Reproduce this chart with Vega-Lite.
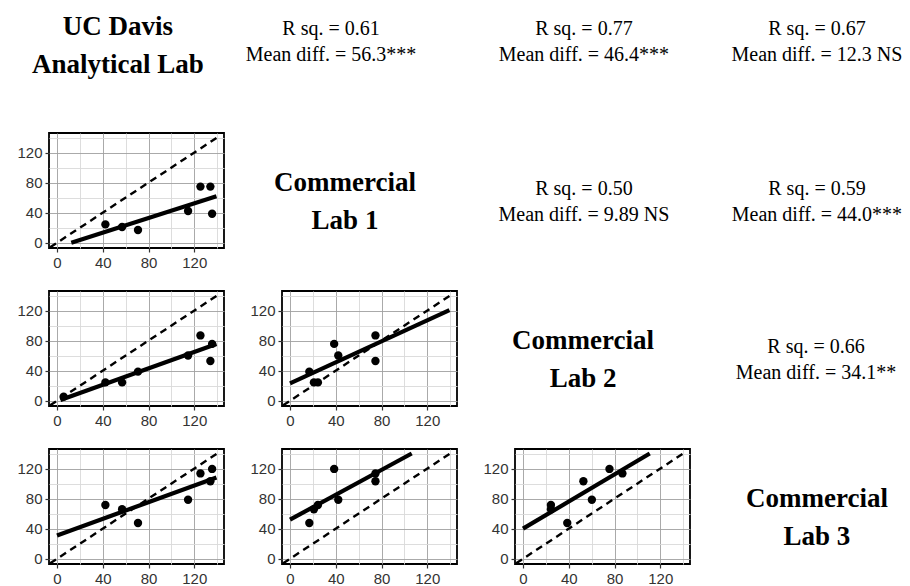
{
  "$schema": "https://vega.github.io/schema/vega-lite/v6.json",
  "background": "white",
  "padding": {"left": 16, "top": 0, "right": 0, "bottom": 0},
  "datasets": {
    "samples": [
      {"ucd": 42.3, "lab1": 24.4, "lab2": 24.4, "lab3": 71.5},
      {"ucd": 56.9, "lab1": 20.9, "lab2": 24.4, "lab3": 65.8},
      {"ucd": 70.8, "lab1": 16.9, "lab2": 38.7, "lab3": 47.5},
      {"ucd": 114.6, "lab1": 42.2, "lab2": 60.2, "lab3": 78.5},
      {"ucd": 125.4, "lab1": 74.7, "lab2": 86.9, "lab3": 113.5},
      {"ucd": 134.1, "lab1": 74.7, "lab2": 52.8, "lab3": 103.1},
      {"ucd": 135.6, "lab1": 38.6, "lab2": 75.6, "lab3": 119.5},
      {"ucd": 5.8, "lab1": null, "lab2": 5.5, "lab3": null}
    ],
    "fits": [
      {"panel": "lab1_ucd", "x": 12.5, "y": 0},
      {"panel": "lab1_ucd", "x": 139.4, "y": 62},
      {"panel": "lab2_ucd", "x": 3, "y": 1},
      {"panel": "lab2_ucd", "x": 139.4, "y": 75.5},
      {"panel": "lab3_ucd", "x": 0, "y": 31},
      {"panel": "lab3_ucd", "x": 139.4, "y": 108},
      {"panel": "lab2_lab1", "x": 0, "y": 23},
      {"panel": "lab2_lab1", "x": 139.4, "y": 120.5},
      {"panel": "lab3_lab1", "x": 0, "y": 52},
      {"panel": "lab3_lab1", "x": 106.4, "y": 140},
      {"panel": "lab3_lab2", "x": 0, "y": 40},
      {"panel": "lab3_lab2", "x": 110.8, "y": 140}
    ],
    "unity": [{"v": -6}, {"v": 140}],
    "texts": [
      {"cell": "r1c1", "line": 1, "text": "UC Davis"},
      {"cell": "r1c1", "line": 2, "text": "Analytical Lab"},
      {"cell": "r1c2", "line": 1, "text": "R sq. = 0.61"},
      {"cell": "r1c2", "line": 2, "text": "Mean diff. = 56.3***"},
      {"cell": "r1c3", "line": 1, "text": "R sq. = 0.77"},
      {"cell": "r1c3", "line": 2, "text": "Mean diff. = 46.4***"},
      {"cell": "r1c4", "line": 1, "text": "R sq. = 0.67"},
      {"cell": "r1c4", "line": 2, "text": "Mean diff. = 12.3 NS"},
      {"cell": "r2c2", "line": 1, "text": "Commercial"},
      {"cell": "r2c2", "line": 2, "text": "Lab 1"},
      {"cell": "r2c3", "line": 1, "text": "R sq. = 0.50"},
      {"cell": "r2c3", "line": 2, "text": "Mean diff. = 9.89 NS"},
      {"cell": "r2c4", "line": 1, "text": "R sq. = 0.59"},
      {"cell": "r2c4", "line": 2, "text": "Mean diff. = 44.0***"},
      {"cell": "r3c3", "line": 1, "text": "Commercial"},
      {"cell": "r3c3", "line": 2, "text": "Lab 2"},
      {"cell": "r3c4", "line": 1, "text": "R sq. = 0.66"},
      {"cell": "r3c4", "line": 2, "text": "Mean diff. = 34.1**"},
      {"cell": "r4c4", "line": 1, "text": "Commercial"},
      {"cell": "r4c4", "line": 2, "text": "Lab 3"}
    ]
  },
  "columns": 4,
  "spacing": {"row": 43, "column": 58},
  "bounds": "flush",
  "concat": [
    {"width": 175, "height": 90, "view": {"stroke": null}, "data": {"name": "texts"}, "transform": [{"filter": "datum.cell === 'r1c1'"}],
     "mark": {"type": "text", "font": "Liberation Serif", "fontSize": 27, "fontWeight": "bold", "align": "center", "baseline": "middle", "color": "black"},
     "encoding": {"x": {"datum": 0.394, "type": "quantitative", "scale": {"domain": [0, 1]}, "axis": null},
                  "y": {"field": "line", "type": "quantitative", "scale": {"domain": [0.2895, 2.658], "reverse": true, "nice": false, "zero": false}, "axis": null},
                  "text": {"field": "text"}}},
    {"width": 175, "height": 90, "view": {"stroke": null}, "data": {"name": "texts"}, "transform": [{"filter": "datum.cell === 'r1c2'"}],
     "mark": {"type": "text", "font": "Liberation Serif", "fontSize": 20, "align": "center", "baseline": "middle", "color": "black"},
     "encoding": {"x": {"datum": 0.28, "type": "quantitative", "scale": {"domain": [0, 1]}, "axis": null},
                  "y": {"field": "line", "type": "quantitative", "scale": {"domain": [-0.115, 3.346], "reverse": true, "nice": false, "zero": false}, "axis": null},
                  "text": {"field": "text"}}},
    {"width": 175, "height": 90, "view": {"stroke": null}, "data": {"name": "texts"}, "transform": [{"filter": "datum.cell === 'r1c3'"}],
     "mark": {"type": "text", "font": "Liberation Serif", "fontSize": 20, "align": "center", "baseline": "middle", "color": "black"},
     "encoding": {"x": {"datum": 0.394, "type": "quantitative", "scale": {"domain": [0, 1]}, "axis": null},
                  "y": {"field": "line", "type": "quantitative", "scale": {"domain": [-0.115, 3.346], "reverse": true, "nice": false, "zero": false}, "axis": null},
                  "text": {"field": "text"}}},
    {"width": 160, "height": 90, "view": {"stroke": null}, "data": {"name": "texts"}, "transform": [{"filter": "datum.cell === 'r1c4'"}],
     "mark": {"type": "text", "font": "Liberation Serif", "fontSize": 20, "align": "center", "baseline": "middle", "color": "black"},
     "encoding": {"x": {"datum": 0.431, "type": "quantitative", "scale": {"domain": [0, 1]}, "axis": null},
                  "y": {"field": "line", "type": "quantitative", "scale": {"domain": [-0.115, 3.346], "reverse": true, "nice": false, "zero": false}, "axis": null},
                  "text": {"field": "text"}}},

    {"width": 175, "height": 115, "resolve": {"axis": {"x": "independent", "y": "independent"}}, "layer": [
      {"data": {"name": "unity"}, "mark": {"type": "line", "color": "black", "strokeWidth": 2.4, "strokeDash": [7, 5], "clip": true},
       "encoding": {"x": {"field": "v", "type": "quantitative", "scale": {"domain": [-7, 146], "nice": false, "zero": false},
                          "axis": {"orient": "top", "title": null, "values": [20, 60, 100, 140], "grid": true, "gridColor": "#d9d9d9", "labels": false, "ticks": false, "domain": false}},
                    "y": {"field": "v", "type": "quantitative", "scale": {"domain": [-7, 146], "nice": false, "zero": false},
                          "axis": {"orient": "right", "title": null, "values": [20, 60, 100, 140], "grid": true, "gridColor": "#d9d9d9", "labels": false, "ticks": false, "domain": false}}}},
      {"data": {"name": "fits"}, "transform": [{"filter": "datum.panel === 'lab1_ucd'"}], "mark": {"type": "line", "color": "black", "strokeWidth": 4.2, "clip": true},
       "encoding": {"x": {"field": "x", "type": "quantitative", "axis": {"orient": "bottom", "title": null, "values": [0, 40, 80, 120], "grid": true, "gridColor": "#a0a0a0"}},
                    "y": {"field": "y", "type": "quantitative", "axis": {"orient": "left", "title": null, "values": [0, 40, 80, 120], "grid": true, "gridColor": "#a0a0a0"}}}},
      {"data": {"name": "samples"}, "mark": {"type": "circle", "color": "black", "opacity": 1, "size": 70},
       "encoding": {"x": {"field": "ucd", "type": "quantitative", "axis": null}, "y": {"field": "lab1", "type": "quantitative", "axis": null}}}
    ]},
    {"width": 175, "height": 115, "view": {"stroke": null}, "data": {"name": "texts"}, "transform": [{"filter": "datum.cell === 'r2c2'"}],
     "mark": {"type": "text", "font": "Liberation Serif", "fontSize": 27, "fontWeight": "bold", "align": "center", "baseline": "middle", "color": "black"},
     "encoding": {"x": {"datum": 0.36, "type": "quantitative", "scale": {"domain": [0, 1]}, "axis": null},
                  "y": {"field": "line", "type": "quantitative", "scale": {"domain": [-0.316, 2.711], "reverse": true, "nice": false, "zero": false}, "axis": null},
                  "text": {"field": "text"}}},
    {"width": 175, "height": 115, "view": {"stroke": null}, "data": {"name": "texts"}, "transform": [{"filter": "datum.cell === 'r2c3'"}],
     "mark": {"type": "text", "font": "Liberation Serif", "fontSize": 20, "align": "center", "baseline": "middle", "color": "black"},
     "encoding": {"x": {"datum": 0.394, "type": "quantitative", "scale": {"domain": [0, 1]}, "axis": null},
                  "y": {"field": "line", "type": "quantitative", "scale": {"domain": [-1.154, 3.269], "reverse": true, "nice": false, "zero": false}, "axis": null},
                  "text": {"field": "text"}}},
    {"width": 160, "height": 115, "view": {"stroke": null}, "data": {"name": "texts"}, "transform": [{"filter": "datum.cell === 'r2c4'"}],
     "mark": {"type": "text", "font": "Liberation Serif", "fontSize": 20, "align": "center", "baseline": "middle", "color": "black"},
     "encoding": {"x": {"datum": 0.431, "type": "quantitative", "scale": {"domain": [0, 1]}, "axis": null},
                  "y": {"field": "line", "type": "quantitative", "scale": {"domain": [-1.154, 3.269], "reverse": true, "nice": false, "zero": false}, "axis": null},
                  "text": {"field": "text"}}},

    {"width": 175, "height": 115, "resolve": {"axis": {"x": "independent", "y": "independent"}}, "layer": [
      {"data": {"name": "unity"}, "mark": {"type": "line", "color": "black", "strokeWidth": 2.4, "strokeDash": [7, 5], "clip": true},
       "encoding": {"x": {"field": "v", "type": "quantitative", "scale": {"domain": [-7, 146], "nice": false, "zero": false},
                          "axis": {"orient": "top", "title": null, "values": [20, 60, 100, 140], "grid": true, "gridColor": "#d9d9d9", "labels": false, "ticks": false, "domain": false}},
                    "y": {"field": "v", "type": "quantitative", "scale": {"domain": [-7, 146], "nice": false, "zero": false},
                          "axis": {"orient": "right", "title": null, "values": [20, 60, 100, 140], "grid": true, "gridColor": "#d9d9d9", "labels": false, "ticks": false, "domain": false}}}},
      {"data": {"name": "fits"}, "transform": [{"filter": "datum.panel === 'lab2_ucd'"}], "mark": {"type": "line", "color": "black", "strokeWidth": 4.2, "clip": true},
       "encoding": {"x": {"field": "x", "type": "quantitative", "axis": {"orient": "bottom", "title": null, "values": [0, 40, 80, 120], "grid": true, "gridColor": "#a0a0a0"}},
                    "y": {"field": "y", "type": "quantitative", "axis": {"orient": "left", "title": null, "values": [0, 40, 80, 120], "grid": true, "gridColor": "#a0a0a0"}}}},
      {"data": {"name": "samples"}, "mark": {"type": "circle", "color": "black", "opacity": 1, "size": 70},
       "encoding": {"x": {"field": "ucd", "type": "quantitative", "axis": null}, "y": {"field": "lab2", "type": "quantitative", "axis": null}}}
    ]},
    {"width": 175, "height": 115, "resolve": {"axis": {"x": "independent", "y": "independent"}}, "layer": [
      {"data": {"name": "unity"}, "mark": {"type": "line", "color": "black", "strokeWidth": 2.4, "strokeDash": [7, 5], "clip": true},
       "encoding": {"x": {"field": "v", "type": "quantitative", "scale": {"domain": [-7, 146], "nice": false, "zero": false},
                          "axis": {"orient": "top", "title": null, "values": [20, 60, 100, 140], "grid": true, "gridColor": "#d9d9d9", "labels": false, "ticks": false, "domain": false}},
                    "y": {"field": "v", "type": "quantitative", "scale": {"domain": [-7, 146], "nice": false, "zero": false},
                          "axis": {"orient": "right", "title": null, "values": [20, 60, 100, 140], "grid": true, "gridColor": "#d9d9d9", "labels": false, "ticks": false, "domain": false}}}},
      {"data": {"name": "fits"}, "transform": [{"filter": "datum.panel === 'lab2_lab1'"}], "mark": {"type": "line", "color": "black", "strokeWidth": 4.2, "clip": true},
       "encoding": {"x": {"field": "x", "type": "quantitative", "axis": {"orient": "bottom", "title": null, "values": [0, 40, 80, 120], "grid": true, "gridColor": "#a0a0a0"}},
                    "y": {"field": "y", "type": "quantitative", "axis": {"orient": "left", "title": null, "values": [0, 40, 80, 120], "grid": true, "gridColor": "#a0a0a0"}}}},
      {"data": {"name": "samples"}, "mark": {"type": "circle", "color": "black", "opacity": 1, "size": 70},
       "encoding": {"x": {"field": "lab1", "type": "quantitative", "axis": null}, "y": {"field": "lab2", "type": "quantitative", "axis": null}}}
    ]},
    {"width": 175, "height": 115, "view": {"stroke": null}, "data": {"name": "texts"}, "transform": [{"filter": "datum.cell === 'r3c3'"}],
     "mark": {"type": "text", "font": "Liberation Serif", "fontSize": 27, "fontWeight": "bold", "align": "center", "baseline": "middle", "color": "black"},
     "encoding": {"x": {"datum": 0.389, "type": "quantitative", "scale": {"domain": [0, 1]}, "axis": null},
                  "y": {"field": "line", "type": "quantitative", "scale": {"domain": [-0.316, 2.711], "reverse": true, "nice": false, "zero": false}, "axis": null},
                  "text": {"field": "text"}}},
    {"width": 160, "height": 115, "view": {"stroke": null}, "data": {"name": "texts"}, "transform": [{"filter": "datum.cell === 'r3c4'"}],
     "mark": {"type": "text", "font": "Liberation Serif", "fontSize": 20, "align": "center", "baseline": "middle", "color": "black"},
     "encoding": {"x": {"datum": 0.425, "type": "quantitative", "scale": {"domain": [0, 1]}, "axis": null},
                  "y": {"field": "line", "type": "quantitative", "scale": {"domain": [-1.154, 3.269], "reverse": true, "nice": false, "zero": false}, "axis": null},
                  "text": {"field": "text"}}},

    {"width": 175, "height": 115, "resolve": {"axis": {"x": "independent", "y": "independent"}}, "layer": [
      {"data": {"name": "unity"}, "mark": {"type": "line", "color": "black", "strokeWidth": 2.4, "strokeDash": [7, 5], "clip": true},
       "encoding": {"x": {"field": "v", "type": "quantitative", "scale": {"domain": [-7, 146], "nice": false, "zero": false},
                          "axis": {"orient": "top", "title": null, "values": [20, 60, 100, 140], "grid": true, "gridColor": "#d9d9d9", "labels": false, "ticks": false, "domain": false}},
                    "y": {"field": "v", "type": "quantitative", "scale": {"domain": [-7, 146], "nice": false, "zero": false},
                          "axis": {"orient": "right", "title": null, "values": [20, 60, 100, 140], "grid": true, "gridColor": "#d9d9d9", "labels": false, "ticks": false, "domain": false}}}},
      {"data": {"name": "fits"}, "transform": [{"filter": "datum.panel === 'lab3_ucd'"}], "mark": {"type": "line", "color": "black", "strokeWidth": 4.2, "clip": true},
       "encoding": {"x": {"field": "x", "type": "quantitative", "axis": {"orient": "bottom", "title": null, "values": [0, 40, 80, 120], "grid": true, "gridColor": "#a0a0a0"}},
                    "y": {"field": "y", "type": "quantitative", "axis": {"orient": "left", "title": null, "values": [0, 40, 80, 120], "grid": true, "gridColor": "#a0a0a0"}}}},
      {"data": {"name": "samples"}, "mark": {"type": "circle", "color": "black", "opacity": 1, "size": 70},
       "encoding": {"x": {"field": "ucd", "type": "quantitative", "axis": null}, "y": {"field": "lab3", "type": "quantitative", "axis": null}}}
    ]},
    {"width": 175, "height": 115, "resolve": {"axis": {"x": "independent", "y": "independent"}}, "layer": [
      {"data": {"name": "unity"}, "mark": {"type": "line", "color": "black", "strokeWidth": 2.4, "strokeDash": [7, 5], "clip": true},
       "encoding": {"x": {"field": "v", "type": "quantitative", "scale": {"domain": [-7, 146], "nice": false, "zero": false},
                          "axis": {"orient": "top", "title": null, "values": [20, 60, 100, 140], "grid": true, "gridColor": "#d9d9d9", "labels": false, "ticks": false, "domain": false}},
                    "y": {"field": "v", "type": "quantitative", "scale": {"domain": [-7, 146], "nice": false, "zero": false},
                          "axis": {"orient": "right", "title": null, "values": [20, 60, 100, 140], "grid": true, "gridColor": "#d9d9d9", "labels": false, "ticks": false, "domain": false}}}},
      {"data": {"name": "fits"}, "transform": [{"filter": "datum.panel === 'lab3_lab1'"}], "mark": {"type": "line", "color": "black", "strokeWidth": 4.2, "clip": true},
       "encoding": {"x": {"field": "x", "type": "quantitative", "axis": {"orient": "bottom", "title": null, "values": [0, 40, 80, 120], "grid": true, "gridColor": "#a0a0a0"}},
                    "y": {"field": "y", "type": "quantitative", "axis": {"orient": "left", "title": null, "values": [0, 40, 80, 120], "grid": true, "gridColor": "#a0a0a0"}}}},
      {"data": {"name": "samples"}, "mark": {"type": "circle", "color": "black", "opacity": 1, "size": 70},
       "encoding": {"x": {"field": "lab1", "type": "quantitative", "axis": null}, "y": {"field": "lab3", "type": "quantitative", "axis": null}}}
    ]},
    {"width": 175, "height": 115, "resolve": {"axis": {"x": "independent", "y": "independent"}}, "layer": [
      {"data": {"name": "unity"}, "mark": {"type": "line", "color": "black", "strokeWidth": 2.4, "strokeDash": [7, 5], "clip": true},
       "encoding": {"x": {"field": "v", "type": "quantitative", "scale": {"domain": [-7, 146], "nice": false, "zero": false},
                          "axis": {"orient": "top", "title": null, "values": [20, 60, 100, 140], "grid": true, "gridColor": "#d9d9d9", "labels": false, "ticks": false, "domain": false}},
                    "y": {"field": "v", "type": "quantitative", "scale": {"domain": [-7, 146], "nice": false, "zero": false},
                          "axis": {"orient": "right", "title": null, "values": [20, 60, 100, 140], "grid": true, "gridColor": "#d9d9d9", "labels": false, "ticks": false, "domain": false}}}},
      {"data": {"name": "fits"}, "transform": [{"filter": "datum.panel === 'lab3_lab2'"}], "mark": {"type": "line", "color": "black", "strokeWidth": 4.2, "clip": true},
       "encoding": {"x": {"field": "x", "type": "quantitative", "axis": {"orient": "bottom", "title": null, "values": [0, 40, 80, 120], "grid": true, "gridColor": "#a0a0a0"}},
                    "y": {"field": "y", "type": "quantitative", "axis": {"orient": "left", "title": null, "values": [0, 40, 80, 120], "grid": true, "gridColor": "#a0a0a0"}}}},
      {"data": {"name": "samples"}, "mark": {"type": "circle", "color": "black", "opacity": 1, "size": 70},
       "encoding": {"x": {"field": "lab2", "type": "quantitative", "axis": null}, "y": {"field": "lab3", "type": "quantitative", "axis": null}}}
    ]},
    {"width": 160, "height": 115, "view": {"stroke": null}, "data": {"name": "texts"}, "transform": [{"filter": "datum.cell === 'r4c4'"}],
     "mark": {"type": "text", "font": "Liberation Serif", "fontSize": 27, "fontWeight": "bold", "align": "center", "baseline": "middle", "color": "black"},
     "encoding": {"x": {"datum": 0.431, "type": "quantitative", "scale": {"domain": [0, 1]}, "axis": null},
                  "y": {"field": "line", "type": "quantitative", "scale": {"domain": [-0.316, 2.711], "reverse": true, "nice": false, "zero": false}, "axis": null},
                  "text": {"field": "text"}}}
  ],
  "config": {
    "view": {"stroke": "black", "strokeWidth": 1.8},
    "axis": {"domain": false, "labelFont": "Liberation Sans", "labelFontSize": 15, "labelColor": "#333333", "tickColor": "#333333", "tickSize": 4, "tickWidth": 1.2, "labelPadding": 3, "gridWidth": 0.9, "labelFlush": false, "labelOverlap": false}
  }
}
